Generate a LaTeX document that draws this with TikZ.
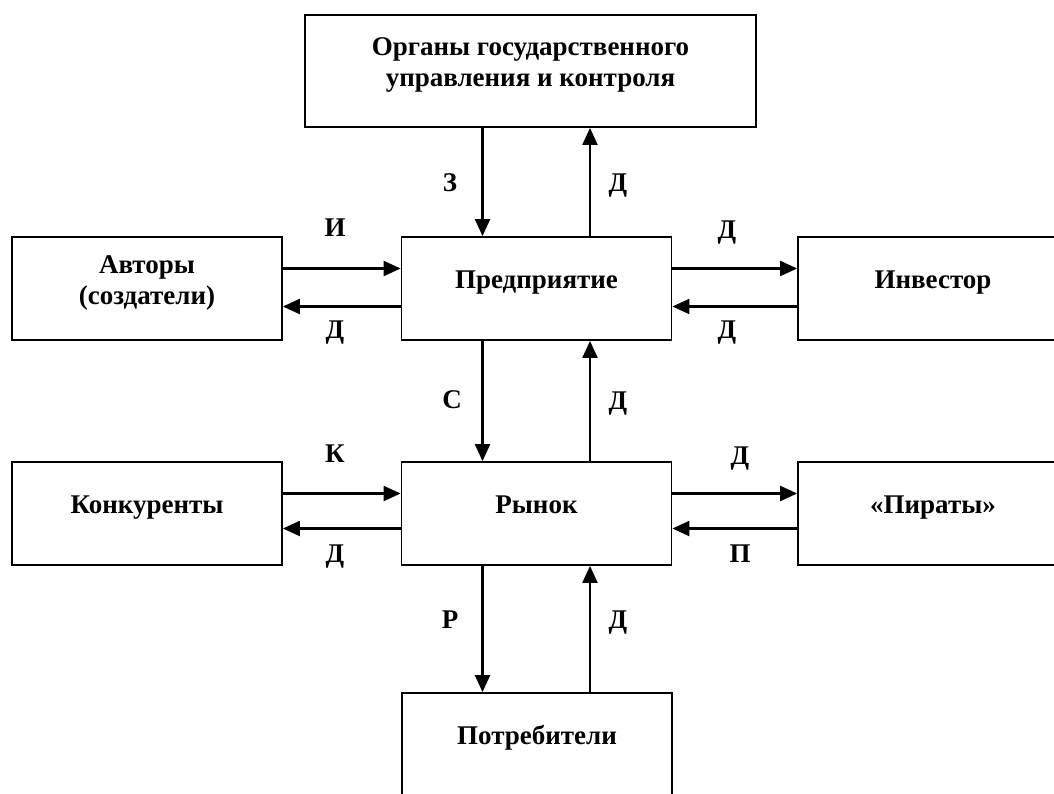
\documentclass[tikz,border=0pt]{standalone}
\usepackage{fontspec}
\setmainfont{Liberation Serif}
\usepackage{tikz}
\usetikzlibrary{arrows.meta}
\tikzstyle{box}=[draw,line width=1.8pt,rectangle,minimum width=270,minimum height=103,inner sep=0,align=center,font=\fontsize{27}{31}\selectfont\bfseries,text height=18pt,text depth=18pt]
\tikzstyle{box two}=[box,text height=49pt,text depth=18pt]
\tikzstyle{arr}=[line width=2.2pt,-{Triangle[length=17pt,width=15pt]}]
\tikzstyle{lbl}=[anchor=base,inner sep=0,font=\fontsize{27}{31}\selectfont\bfseries]
\begin{document}
\begin{tikzpicture}[x=1pt,y=-1pt]
		\useasboundingbox (0,0) rectangle (1054,794);
		\clip (0,0) rectangle (1054,794);

		\node[box two,minimum width=451,minimum height=112](gov) at (530.5,71){Органы государственного\\управления и контроля};

		\node[box two](avt) at (147,288.5){Авторы\\(создатели)};
		\node[box](pred) at (536.5,288.5){Предприятие};
		\node[box](inv) at (933,288.5){Инвестор};

		\node[box](konk) at (147,513.5){Конкуренты};
		\node[box](ryn) at (536.5,513.5){Рынок};
		\node[box](pir) at (933,513.5){«Пираты»};

		\node[box](potr) at (537,744.5){Потребители};
%government and enterprise
		\draw[arr] ([xshift=-48]gov.south) -- ([xshift=-54]pred.north);
		\draw[arr] ([xshift=53.5]pred.north) -- ([xshift=59.5]gov.south);
%authors and enterprise
		\draw[arr] ([yshift=20]avt.east) -- ([yshift=20]pred.west);
		\draw[arr] ([yshift=-18]pred.west) -- ([yshift=-18]avt.east);
%enterprise and investor
		\draw[arr] ([yshift=20]pred.east) -- ([yshift=20]inv.west);
		\draw[arr] ([yshift=-18]inv.west) -- ([yshift=-18]pred.east);
%enterprise and market
		\draw[arr] ([xshift=-54]pred.south) -- ([xshift=-54]ryn.north);
		\draw[arr] ([xshift=53.5]ryn.north) -- ([xshift=53.5]pred.south);
%competitors and market
		\draw[arr] ([yshift=20]konk.east) -- ([yshift=20]ryn.west);
		\draw[arr] ([yshift=-15]ryn.west) -- ([yshift=-15]konk.east);
%market and pirates
		\draw[arr] ([yshift=20]ryn.east) -- ([yshift=20]pir.west);
		\draw[arr] ([yshift=-15]pir.west) -- ([yshift=-15]ryn.east);
%market and consumers
		\draw[arr] ([xshift=-54]ryn.south) -- ([xshift=-54.5]potr.north);
		\draw[arr] ([xshift=53]potr.north) -- ([xshift=53.5]ryn.south);

		\node[lbl](lz) at (450,192){З};
		\node[lbl](ld1) at (618,192){Д};
		\node[lbl](li) at (335,237){И};
		\node[lbl](ld2) at (335,338){Д};
		\node[lbl](ld3) at (727,239){Д};
		\node[lbl](ld4) at (727,338){Д};
		\node[lbl](ls) at (452,408){С};
		\node[lbl](ld5) at (618,409){Д};
		\node[lbl](lk) at (335,462){К};
		\node[lbl](ld6) at (335,562){Д};
		\node[lbl](ld7) at (740,464){Д};
		\node[lbl](lp) at (740,562){П};
		\node[lbl](lr) at (450,628){Р};
		\node[lbl](ld8) at (618,628){Д};
	\end{tikzpicture}
\end{document}
